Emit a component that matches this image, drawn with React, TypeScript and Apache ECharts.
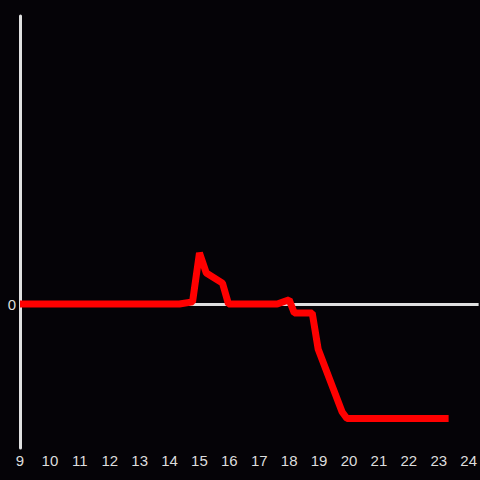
import React, { useEffect, useRef } from "react";
import * as echarts from "echarts";

const hours = [9, 14.33, 14.77, 15.0, 15.23, 15.77, 15.97, 17.6, 18.0, 18.17, 18.77, 18.97, 19.77, 19.93, 23.33];
const values = [0, 0, 0.03, 0.71, 0.43, 0.29, 0, 0, 0.06, -0.125, -0.125, -0.63, -1.5, -1.59, -1.59];
const xTicks = [9, 10, 11, 12, 13, 14, 15, 16, 17, 18, 19, 20, 21, 22, 23, 24];

export default function App() {
  const ref = useRef<HTMLDivElement>(null);
  useEffect(() => {
    const chart = echarts.init(ref.current!, null, { renderer: "svg" });
    chart.setOption({
      animation: false,
      backgroundColor: "#050307",
      grid: { left: 20, right: 0, top: 16, bottom: 32 },
      xAxis: {
        type: "value",
        min: 9,
        max: 24.333,
        interval: 1,
        axisLine: { show: false },
        axisTick: { show: false },
        splitLine: { show: false },
        axisLabel: {
          color: "#dddddd",
          fontSize: 15,
          fontFamily: "Liberation Sans",
          margin: 5,
          showMaxLabel: false,
          formatter: (v: number) => (xTicks.includes(v) ? String(v) : ""),
        },
      },
      yAxis: {
        type: "value",
        min: -2,
        max: 4,
        interval: 2,
        axisLine: { show: true, onZero: false, lineStyle: { color: "#e0e0e0", width: 3 } },
        axisTick: { show: false },
        splitLine: { show: false },
        axisLabel: {
          color: "#dddddd",
          fontSize: 15,
          fontFamily: "Liberation Sans",
          margin: 4,
          formatter: (v: number) => (v === 0 ? "0" : ""),
        },
      },
      series: [
        {
          type: "line",
          data: hours.map((h, i) => [h, values[i]]),
          showSymbol: false,
          lineStyle: { color: "#ff0000", width: 7 },
          z: 3,
          markLine: {
            silent: true,
            symbol: "none",
            label: { show: false },
            lineStyle: { color: "#e0e0e0", width: 3, type: "solid" },
            data: [{ yAxis: 0 }],
            z: 1,
          },
        },
      ],
    });
    return () => chart.dispose();
  }, []);
  return <div ref={ref} style={{ width: 480, height: 480, position: "fixed", left: 0, top: 0 }} />;
}
